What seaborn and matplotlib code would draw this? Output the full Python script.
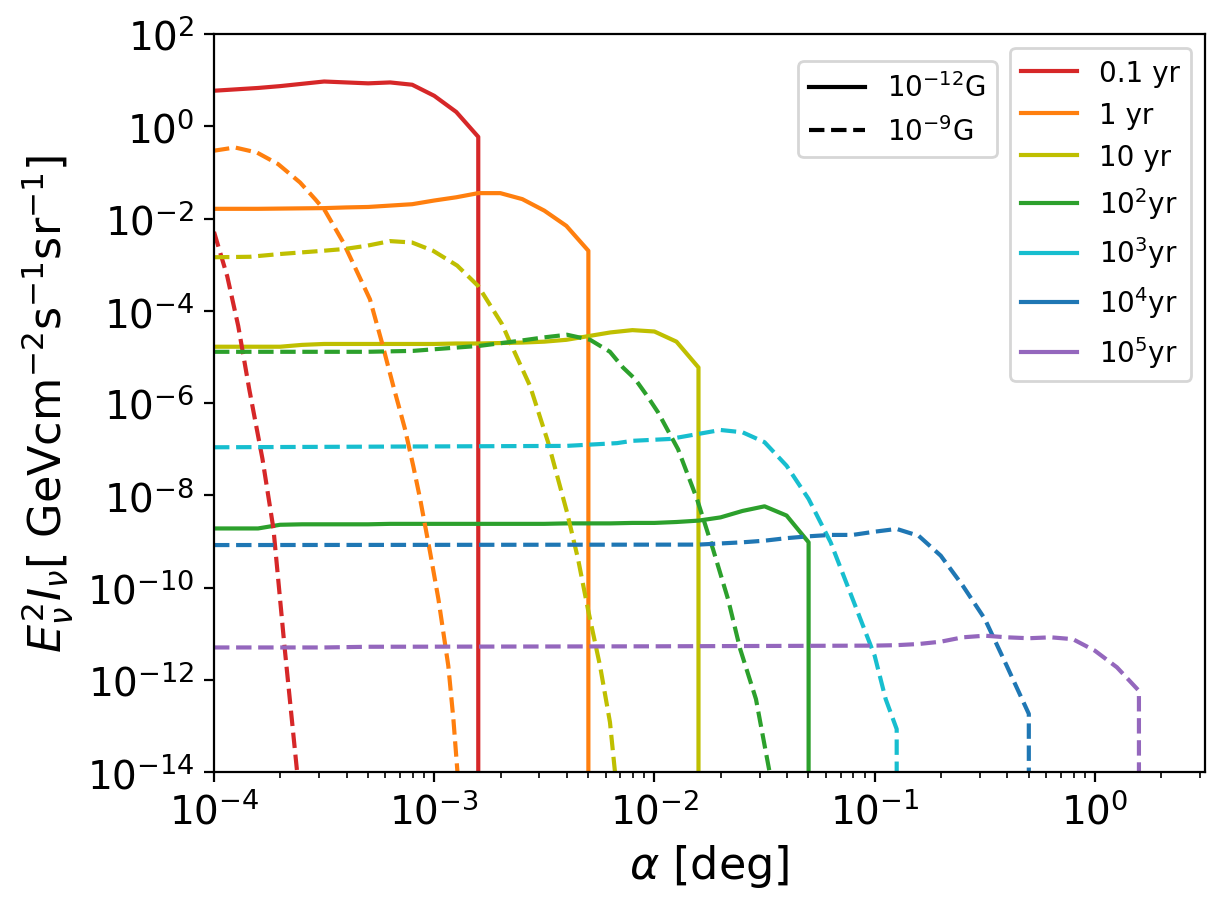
import numpy as np
import pandas as pd
import matplotlib
matplotlib.use("Agg")
import matplotlib.pyplot as plt
from matplotlib.lines import Line2D
import seaborn as sns

# sampling grid of the solid curves, log10(alpha / deg)
log_grid = [-4.0, -3.9, -3.8, -3.7, -3.6, -3.5, -3.4, -3.3, -3.2, -3.1,
            -3.0, -2.9, -2.8, -2.7, -2.6, -2.5, -2.4, -2.3, -2.2, -2.1,
            -2.0, -1.9, -1.8, -1.7, -1.6, -1.5, -1.4, -1.3]

ages = ["0.1 yr", "1 yr", "10 yr", "$10^2$yr", "$10^3$yr", "$10^4$yr", "$10^5$yr"]
age_colors = ["tab:red", "tab:orange", "y", "tab:green", "tab:cyan", "tab:blue", "tab:purple"]
fields = ["$10^{-12}$G", "$10^{-9}$G"]

# curves: log10(alpha) and log10(E^2 I)
# B = 1e-12 G
red_solid_y = [0.77, 0.80, 0.83, 0.87, 0.92, 0.97, 0.95, 0.93, 0.95, 0.90,
               0.66, 0.31, -0.23]
orange_solid_y = [-1.79, -1.79, -1.79, -1.785, -1.78, -1.775, -1.76, -1.75, -1.72,
                  -1.69, -1.61, -1.54, -1.45, -1.45, -1.58, -1.83, -2.16, -2.70]
yellow_solid_y = [-4.78, -4.78, -4.78, -4.78, -4.74, -4.72, -4.72, -4.72, -4.72,
                  -4.72, -4.72, -4.71, -4.71, -4.70, -4.69, -4.67, -4.63, -4.55,
                  -4.47, -4.42, -4.45, -4.67, -5.23]
green_solid_y = [-8.72, -8.72, -8.72, -8.64, -8.63, -8.63, -8.63, -8.63, -8.62,
                 -8.62, -8.62, -8.62, -8.62, -8.62, -8.62, -8.62, -8.61, -8.61,
                 -8.61, -8.60, -8.60, -8.58, -8.55, -8.48, -8.34, -8.24, -8.44, -9.02]

# B = 1e-9 G
red_dash_x = [-4.0, -3.94, -3.89, -3.84, -3.78, -3.73, -3.68, -3.623, -3.6]
red_dash_y = [-2.29, -3.25, -4.33, -5.70, -7.21, -8.73, -11.27, -13.98, -15.0]
orange_dash_x = [-4.0, -3.905, -3.805, -3.709, -3.609, -3.541, -3.496, -3.414, -3.346,
                 -3.292, -3.238, -3.186, -3.133, -3.095, -3.064, -3.019, -2.981,
                 -2.936, -2.913, -2.895, -2.88]
orange_dash_y = [-0.53, -0.46, -0.57, -0.82, -1.22, -1.58, -1.83, -2.51, -3.20,
                 -3.75, -4.68, -5.63, -6.56, -7.37, -8.08, -9.23, -10.25,
                 -11.70, -12.85, -13.97, -15.0]
yellow_dash_x = [-4.0, -3.837, -3.700, -3.505, -3.405, -3.305, -3.201, -3.101, -3.005,
                 -2.896, -2.801, -2.692, -2.656, -2.565, -2.483, -2.397, -2.347,
                 -2.302, -2.247, -2.202, -2.179, -2.16]
yellow_dash_y = [-2.84, -2.83, -2.77, -2.70, -2.66, -2.59, -2.49, -2.52, -2.70,
                 -3.02, -3.46, -4.29, -4.68, -5.63, -6.85, -8.37, -9.38,
                 -10.47, -11.70, -12.92, -14.01, -14.6]
green_dash_x = [-4.0, -3.305, -3.096, -2.987, -2.792, -2.61, -2.506, -2.397, -2.292,
                -2.202, -2.143, -2.088, -2.034, -1.984, -1.893, -1.807, -1.734,
                -1.666, -1.611, -1.539, -1.480, -1.45]
green_dash_y = [-4.89, -4.89, -4.87, -4.83, -4.76, -4.65, -4.58, -4.52, -4.63,
                -4.89, -5.23, -5.48, -5.84, -6.20, -7.00, -8.08, -9.17,
                -10.25, -11.33, -12.42, -13.93, -14.6]
cyan_dash_x = [-4.0, -2.4, -2.17, -2.1, -1.93, -1.8, -1.7, -1.6, -1.5, -1.4, -1.3,
               -1.2, -1.1, -1.0, -0.95, -0.9]
cyan_dash_y = [-6.96, -6.93, -6.87, -6.82, -6.78, -6.67, -6.585, -6.635, -6.85,
               -7.36, -8.08, -9.02, -10.25, -11.48, -12.42, -13.07]
blue_dash_x = [-4.0, -1.8, -1.6, -1.5, -1.4, -1.3, -1.2, -1.1, -1.0, -0.9, -0.8,
               -0.7, -0.6, -0.5, -0.4, -0.3]
blue_dash_y = [-9.08, -9.07, -9.02, -8.985, -8.93, -8.89, -8.86, -8.86, -8.79,
               -8.73, -8.88, -9.31, -9.96, -10.68, -11.70, -12.74]
purple_dash_x = [-4.0, -3.5, -3.3, -2.0, -1.0, -0.9, -0.8, -0.7, -0.6, -0.5, -0.4,
                 -0.3, -0.2, -0.1, 0.0, 0.1, 0.2]
purple_dash_y = [-11.30, -11.30, -11.285, -11.275, -11.26, -11.25, -11.225, -11.175,
                 -11.08, -11.045, -11.08, -11.10, -11.08, -11.12, -11.37, -11.73, -12.24]

# curves that stop abruptly fall off to this floor (below the axis)
floor = -20.0

curves = [
    (ages[0], fields[0], log_grid[:len(red_solid_y)], red_solid_y, True),
    (ages[1], fields[0], log_grid[:len(orange_solid_y)], orange_solid_y, True),
    (ages[2], fields[0], log_grid[:len(yellow_solid_y)], yellow_solid_y, True),
    (ages[3], fields[0], log_grid[:len(green_solid_y)], green_solid_y, True),
    (ages[0], fields[1], red_dash_x, red_dash_y, False),
    (ages[1], fields[1], orange_dash_x, orange_dash_y, False),
    (ages[2], fields[1], yellow_dash_x, yellow_dash_y, False),
    (ages[3], fields[1], green_dash_x, green_dash_y, False),
    (ages[4], fields[1], cyan_dash_x, cyan_dash_y, True),
    (ages[5], fields[1], blue_dash_x, blue_dash_y, True),
    (ages[6], fields[1], purple_dash_x, purple_dash_y, True),
]

rows = []
for age, field, lx, ly, cutoff in curves:
    lx = list(lx)
    ly = list(ly)
    if cutoff:
        lx.append(lx[-1])
        ly.append(floor)
    for a, b in zip(lx, ly):
        rows.append({"alpha": 10 ** a, "flux": 10 ** b, "age": age, "field": field})
df = pd.DataFrame(rows)

fig = plt.figure(figsize=(6.125, 4.56), dpi=200)
ax = fig.add_axes([214 / 1225, 139 / 912, 991 / 1225, 738 / 912])
ax.set_xscale("log")
ax.set_yscale("log")

palette = dict(zip(ages, age_colors))
for field, ls in zip(fields, ["-", "--"]):
    sub = df[df["field"] == field]
    sns.lineplot(data=sub, x="alpha", y="flux", hue="age",
                 hue_order=[a for a in ages if a in set(sub["age"])],
                 palette=palette, estimator=None, sort=False, legend=False,
                 linewidth=1.5, linestyle=ls, ax=ax)

ax.set_xlim(1e-4, 10 ** 0.5)
ax.set_ylim(1e-14, 1e2)
ax.set_xlabel(r"$\alpha$ [deg]", fontsize=16)
ax.set_ylabel(r"$E_{\nu}^{2}I_{\nu}$[ GeVcm$^{-2}$s$^{-1}$sr$^{-1}$]", fontsize=16)
ax.tick_params(labelsize=14)

field_handles = [Line2D([], [], color="k", ls="-", lw=1.5),
                 Line2D([], [], color="k", ls="--", lw=1.5)]
leg1 = ax.legend(field_handles, fields, loc="upper right",
                 bbox_to_anchor=(0.790, 0.963), borderaxespad=0)
ax.add_artist(leg1)
age_handles = [Line2D([], [], color=c, lw=1.5) for c in age_colors]
ax.legend(age_handles, ages, loc="upper right")

fig.savefig("out.png", dpi=200)
